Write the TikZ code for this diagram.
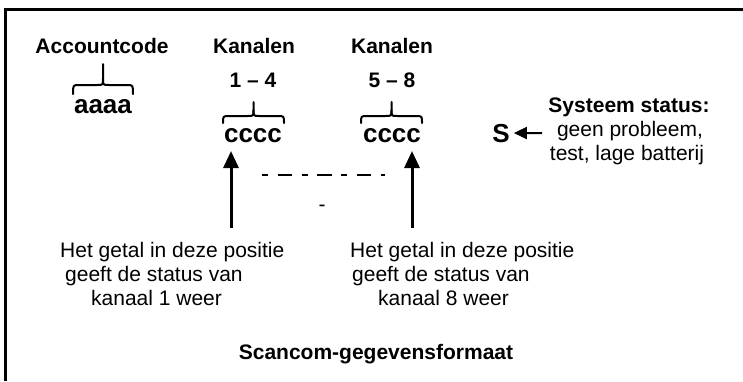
\documentclass[tikz,border=0pt]{standalone}
\usepackage{fontspec}
\setmainfont{Liberation Sans}
\usetikzlibrary{arrows.meta}
\begin{document}
\begin{tikzpicture}[x=1pt,y=-1pt,
  hd/.style={font=\fontsize{21}{24}\selectfont\bfseries, inner sep=0pt, anchor=base},
  code/.style={font=\fontsize{26}{30}\selectfont\bfseries, inner sep=0pt, anchor=base},
  txt/.style={font=\fontsize{21}{24}\selectfont, inner sep=0pt, anchor=base west},
  sidetxt/.style={font=\fontsize{21}{24}\selectfont, inner sep=0pt, anchor=base},
  brc/.style={line width=2pt, line cap=round, line join=round},
  bigarrow/.style={line width=3pt, -{Triangle[length=17pt,width=15pt]}},
  smallarrow/.style={line width=2pt, -{Triangle[length=13pt,width=12pt]}},
  framestyle/.style={line width=3pt},
  dashline/.style={line width=2.5pt, dash pattern=on 6pt off 9.5pt on 14.5pt off 9.5pt}]
\useasboundingbox (0,0) rectangle (743,381);
% frame (only top and left edges visible)
\coordinate (fr) at (743,9);
\coordinate (fc) at (5,9);
\coordinate (fb) at (5,381);
\draw[framestyle] (fr) -- (fc) -- (fb);

% headings
\node[hd] (acc) at (102,53) {Accountcode};
\node[hd] (kan1) at (254,53) {Kanalen};
\node[hd] (kan2) at (392,53) {Kanalen};
\node[hd] (rng1) at (253,87) {1 – 4};
\node[hd] (rng2) at (392,87) {5 – 8};

% codes
\node[code] (aaaa) at (103,113) {aaaa};
\node[code] (cc1) at (253,142) {cccc};
\node[code] (cc2) at (392,142) {cccc};
\node[code] (S) at (501,142) {S};

% braces
\foreach \xa/\xm/\xb/\ye/\yh/\yt in {73/103/133/94/85/64, 223/253.5/284/123/116/102, 361/391.5/422/123/116/102}{
  \draw[brc] (\xa,\ye) .. controls (\xa,\yh) .. (\xa+6,\yh) -- (\xm-6,\yh) .. controls (\xm,\yh) .. (\xm,\yh-6) -- (\xm,\yt);
  \draw[brc] (\xm,\yh-6) .. controls (\xm,\yh) .. (\xm+6,\yh) -- (\xb-6,\yh) .. controls (\xb,\yh) .. (\xb,\ye);
}

% system status
\node[hd] (sys) at (629,112) {Systeem status:};
\node[sidetxt] (st1) at (630,136) {geen probleem,};
\node[sidetxt] (st2) at (627,160) {test, lage batterij};
\coordinate (sa) at (542,133);
\draw[smallarrow] (sa) -- ([xshift=4pt]S.east);

% arrows up to the channel digits
\coordinate (b1) at (231,228);
\coordinate (t1) at (231,151);
\coordinate (b2) at (412,228);
\coordinate (t2) at (412,151);
\draw[bigarrow] (b1) -- (t1);
\draw[bigarrow] (b2) -- (t2);

% dashed separator and lone dash
\coordinate (d0) at (262,175);
\coordinate (d1) at (385,175);
\draw[dashline] (d0) -- (d1);
\node[font=\fontsize{21}{24}\selectfont, inner sep=0pt, anchor=base] (lone) at (322,211) {-};

% descriptions
\node[txt] (la) at (60,257) {Het getal in deze positie};
\node[txt] (lb) at (65,281) {geeft de status van};
\node[txt] (lc) at (91,305) {kanaal 1 weer};
\node[txt] (ra) at (350,257) {Het getal in deze positie};
\node[txt] (rb) at (352,281) {geeft de status van};
\node[txt] (rc) at (378,305) {kanaal 8 weer};

% caption
\node[hd] (title) at (376,359) {Scancom-gegevensformaat};
\end{tikzpicture}
\end{document}
